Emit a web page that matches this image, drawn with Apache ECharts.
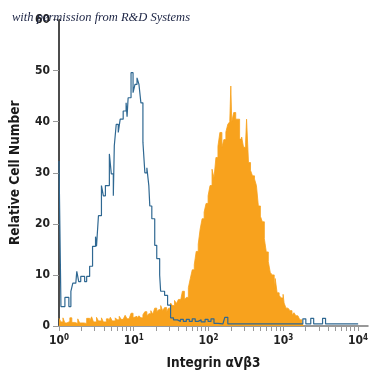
<!DOCTYPE html>
<html>
<head>
<meta charset="utf-8">
<script src="https://cdn.jsdelivr.net/npm/echarts@6/dist/echarts.min.js"></script>
<style>html,body{margin:0;padding:0;background:#fff;}#chart{width:375px;height:375px;}</style>
</head>
<body>
<div id="chart"></div>
<script>
// Positions are in decades (log10 of fluorescence intensity), bin left edges.
const blueLog = [0.000,0.026,0.079,0.132,0.159,0.185,0.225,0.238,0.264,0.291,0.343,0.370,0.410,0.449,0.489,0.502,0.528,0.568,0.594,0.621,0.674,0.700,0.727,0.740,0.766,0.793,0.819,0.859,0.898,0.911,0.925,0.964,0.991,1.017,1.044,1.070,1.096,1.123,1.149,1.176,1.202,1.215,1.242,1.281,1.308,1.347,1.360,1.413,1.453,1.493,1.532,1.585,1.625,1.664,1.704,1.744,1.783,1.823,1.863,1.902,1.955,1.995,2.034,2.074,2.127,2.193,2.219,2.259,3.263,3.303,3.369,3.408,3.527,3.567,4.003];
const blueCount = [32.3,3.8,5.6,3.8,6.8,8.4,8.1,10.7,8.7,9.7,8.7,9.7,11.7,15.6,17.5,15.6,21.6,27.5,25.5,27.5,33.7,29.8,25.5,35.3,39.5,37.9,40.5,42.1,43.7,41.0,44.7,49.6,45.7,47.3,48.6,47.3,43.7,36.0,30.0,31.0,27.5,23.5,21.0,15.8,13.2,10.0,6.8,6.0,4.1,1.6,1.2,0.9,1.3,0.9,1.3,0.9,1.4,0.9,1.2,0.8,1.3,0.9,1.4,0.5,0.4,0.5,1.7,0.4,1.4,0.4,1.5,0.4,1.5,0.4,0.4];

const orangeLog = [0.000,0.026,0.053,0.079,0.106,0.145,0.172,0.211,0.251,0.277,0.330,0.370,0.410,0.436,0.462,0.502,0.528,0.568,0.594,0.634,0.661,0.687,0.713,0.753,0.779,0.806,0.832,0.859,0.885,0.911,0.938,0.964,0.991,1.017,1.044,1.070,1.096,1.123,1.149,1.176,1.202,1.229,1.255,1.281,1.308,1.334,1.361,1.387,1.413,1.440,1.466,1.493,1.519,1.546,1.572,1.598,1.625,1.651,1.678,1.704,1.731,1.757,1.783,1.810,1.836,1.863,1.889,1.915,1.942,1.968,1.995,2.021,2.048,2.074,2.100,2.127,2.153,2.180,2.206,2.233,2.259,2.285,2.299,2.312,2.338,2.365,2.391,2.417,2.444,2.470,2.497,2.510,2.536,2.563,2.589,2.616,2.642,2.668,2.695,2.721,2.748,2.774,2.801,2.827,2.853,2.880,2.893,2.919,2.946,2.972,2.999,3.012,3.038,3.065,3.091,3.118,3.144,3.170,3.197,3.223,3.250,3.276];
const orangeCount = [1.5,0.8,1.6,0.6,0.9,1.6,0.7,0.5,1.4,0.6,0.5,1.5,0.9,1.8,0.8,1.7,1.0,1.6,0.8,1.4,0.9,1.7,1.0,1.6,1.2,1.9,1.3,1.5,2.1,1.4,1.7,2.5,1.6,1.9,1.5,2.0,1.6,2.2,2.8,2.0,2.4,3.0,2.3,3.5,2.8,3.2,4.0,3.0,3.6,2.8,3.5,4.5,4.0,5.0,4.4,5.2,4.8,6.8,5.2,5.6,7.5,9.3,11.0,12.0,14.6,16.0,19.0,21.0,22.3,24.0,25.5,27.5,30.7,29.0,33.0,35.2,37.9,35.0,36.5,38.0,39.5,40.0,47.0,40.0,41.8,40.5,40.5,36.6,37.0,35.0,36.0,40.5,32.0,30.5,29.4,28.8,27.5,23.5,21.5,20.4,17.1,14.5,12.6,10.5,10.0,7.4,9.3,6.5,6.0,5.5,6.2,4.5,3.5,3.8,3.0,2.2,2.6,2.0,2.3,1.2,0.5,0];

const tickIntensities = [1,2,3,4,5,6,7,8,9,10,20,30,40,50,60,70,80,90,100,200,300,400,500,600,700,800,900,1000,2000,3000,4000,5000,6000,7000,8000,9000,10000];
const decadeLabels = [0,1,2,3,4];
const yTicks = [0,10,20,30,40,50,60];

const font = "'Liberation Sans Narrow','DejaVu Sans Condensed',sans-serif";
const chart = echarts.init(document.getElementById('chart'), null, {renderer:'canvas'});
chart.setOption({
  animation:false,
  backgroundColor:'#fff',
  title:{
    text:'with permission from R&D Systems',
    left:7, top:6,
    textStyle:{fontFamily:"'Liberation Serif','DejaVu Serif',serif",fontStyle:'italic',fontWeight:'normal',fontSize:12.5,color:'#1c2444'}
  },
  grid:{left:55,right:7,top:19.6,bottom:47},
  xAxis:{
    type:'value', min:0, max:4.135,
    name:'Integrin αVβ3', nameLocation:'middle', nameGap:30,
    nameTextStyle:{fontFamily:font,fontWeight:'bold',fontSize:13.5,color:'#1a1a1a'},
    axisLine:{lineStyle:{color:'#777',width:1.5}},
    axisTick:{show:true,customValues:tickIntensities.map(v=>Math.log10(v)),length:5,lineStyle:{color:'#999',width:1}},
    axisLabel:{
      customValues:decadeLabels, margin:8,
      formatter:v=>'{b|10}{s|'+Math.round(v)+'}',
      rich:{b:{fontFamily:font,fontSize:12,color:'#222',fontWeight:'bold'},
            s:{fontFamily:font,fontSize:8,color:'#222',fontWeight:'bold',verticalAlign:'top',padding:[0,0,6,0]}}
    },
    splitLine:{show:false}
  },
  yAxis:{
    type:'value', min:yTicks[0], max:yTicks[yTicks.length-1], interval:10,
    name:'Relative Cell Number', nameLocation:'middle', nameGap:37,
    nameTextStyle:{fontFamily:font,fontWeight:'bold',fontSize:13.5,color:'#1a1a1a'},
    axisLine:{show:true,lineStyle:{color:'#111',width:1.5}},
    axisTick:{show:true,length:6,lineStyle:{color:'#999',width:1}},
    axisLabel:{fontFamily:font,fontSize:12,fontWeight:'bold',color:'#222',margin:9},
    splitLine:{show:false}
  },
  series:[
    {
      type:'line', step:'end', symbol:'none', silent:true,
      data:orangeLog.map((x,i)=>[x,orangeCount[i]]),
      lineStyle:{color:'#f8a21d',width:0.8},
      areaStyle:{color:'#f8a21d',opacity:1},
      z:2
    },
    {
      type:'line', step:'end', symbol:'none', silent:true,
      data:blueLog.map((x,i)=>[x,blueCount[i]]),
      lineStyle:{color:'#2f6892',width:1.2},
      z:3
    }
  ]
});
</script>
</body>
</html>
